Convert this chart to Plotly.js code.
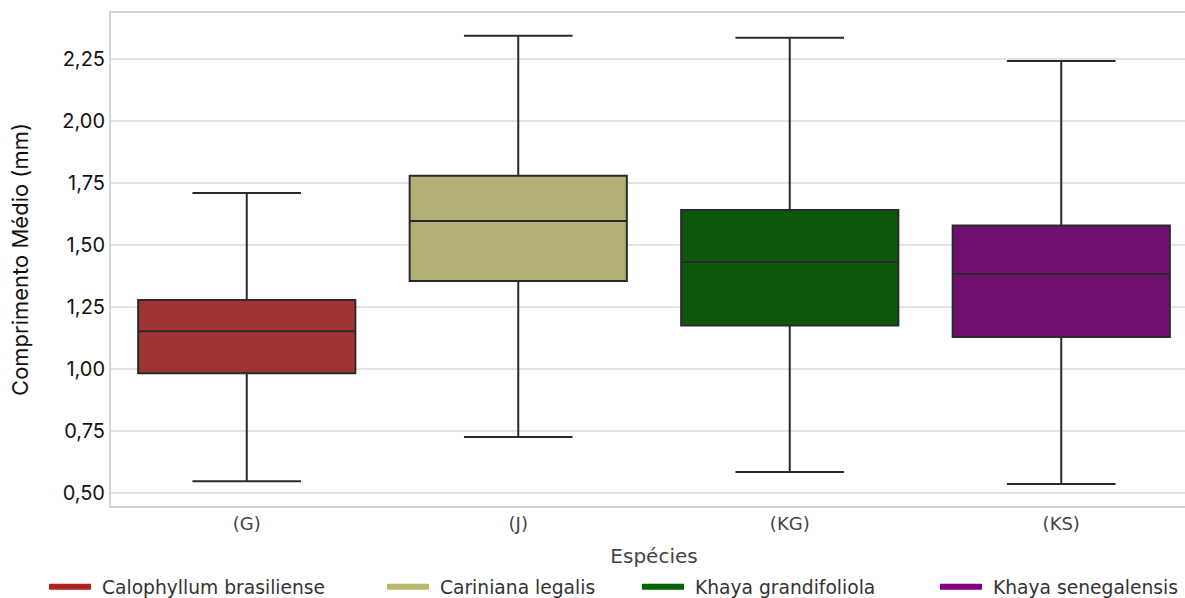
<!DOCTYPE html>
<html>
<head>
<meta charset="utf-8">
<script src="https://cdn.plot.ly/plotly-3.0.1.min.js"></script>
<style>
html,body{margin:0;padding:0;overflow:hidden;background:#fff;}
#chart{width:1200px;height:598px;}
</style>
</head>
<body>
<div id="chart"></div>
<script>
// Categories (species codes) and legend names
const categories = ['(G)', '(J)', '(KG)', '(KS)'];
const speciesNames = ['Calophyllum brasiliense', 'Cariniana legalis', 'Khaya grandifoliola', 'Khaya senegalensis'];

// Box statistics (mm)
const lowerWhisker = [0.547, 0.726, 0.585, 0.536];
const q1Values     = [0.983, 1.355, 1.175, 1.129];
const medianValues = [1.152, 1.597, 1.431, 1.383];
const q3Values     = [1.278, 1.779, 1.641, 1.578];
const upperWhisker = [1.709, 2.343, 2.335, 2.242];

// Colours
const boxColors    = ['#A03434', '#B3AE75', '#0D580D', '#701070'];
const legendColors = ['#B22222', '#BDB76B', '#006400', '#800080'];

// Y ticks
const yTickVals = [0.5, 0.75, 1.0, 1.25, 1.5, 1.75, 2.0, 2.25];
const yTickText = ['0,50', '0,75', '1,00', '1,25', '1,50', '1,75', '2,00', '2,25'];

const traces = [];
categories.forEach((c, i) => {
  traces.push({
    type: 'box',
    x: [c],
    q1: [q1Values[i]],
    median: [medianValues[i]],
    q3: [q3Values[i]],
    lowerfence: [lowerWhisker[i]],
    upperfence: [upperWhisker[i]],
    fillcolor: boxColors[i],
    line: {color: '#2a2a2a', width: 2},
    whiskerwidth: 0.5,
    width: 0.8,
    showlegend: false,
    hoverinfo: 'skip'
  });
});

const legendX = [44, 382, 637, 935];
const legendIds = ['legend', 'legend2', 'legend3', 'legend4'];
speciesNames.forEach((n, i) => {
  traces.push({
    type: 'scatter',
    mode: 'lines',
    x: [null], y: [null],
    name: '\u00a0' + n,
    line: {color: legendColors[i], width: 6},
    legend: legendIds[i],
    showlegend: true
  });
});

const legendBase = {
  orientation: 'h',
  xref: 'container', yref: 'container',
  xanchor: 'left', yanchor: 'middle',
  y: 11 / 598,
  bgcolor: 'rgba(0,0,0,0)',
  font: {family: 'DejaVu Sans', size: 18.7, color: '#333333'},
  itemwidth: 42
};

const layout = {
  width: 1200,
  height: 598,
  margin: {l: 111, r: 3, t: 13, b: 92},
  paper_bgcolor: '#ffffff',
  plot_bgcolor: '#ffffff',
  boxmode: 'overlay',
  xaxis: {
    type: 'category',
    categoryorder: 'array',
    categoryarray: categories,
    range: [-0.5, 3.5],
    showgrid: false,
    zeroline: false,
    showline: true,
    mirror: true,
    linecolor: '#d4d4d4',
    linewidth: 2,
    ticks: '',
    tickfont: {family: 'DejaVu Sans', size: 18, color: '#444444'},
    title: {text: 'Espécies', font: {family: 'DejaVu Sans', size: 20, color: '#444444'}, standoff: 16}
  },
  yaxis: {
    range: [0.4476, 2.435],
    tickvals: yTickVals,
    ticktext: yTickText,
    showgrid: true,
    gridcolor: '#e3e3e3',
    gridwidth: 1.5,
    zeroline: false,
    showline: true,
    mirror: true,
    linecolor: '#d4d4d4',
    linewidth: 2,
    ticks: '',
    tickfont: {family: 'Inter', size: 20, color: '#111111'},
    title: {text: 'Comprimento Médio (mm)', font: {family: 'Inter', size: 22, color: '#111111'}, standoff: 28}
  },
  legend: Object.assign({}, legendBase, {x: legendX[0] / 1200}),
  legend2: Object.assign({}, legendBase, {x: legendX[1] / 1200}),
  legend3: Object.assign({}, legendBase, {x: legendX[2] / 1200}),
  legend4: Object.assign({}, legendBase, {x: legendX[3] / 1200}),
  showlegend: true
};

Plotly.newPlot('chart', traces, layout, {displayModeBar: false, staticPlot: true});
</script>
</body>
</html>
